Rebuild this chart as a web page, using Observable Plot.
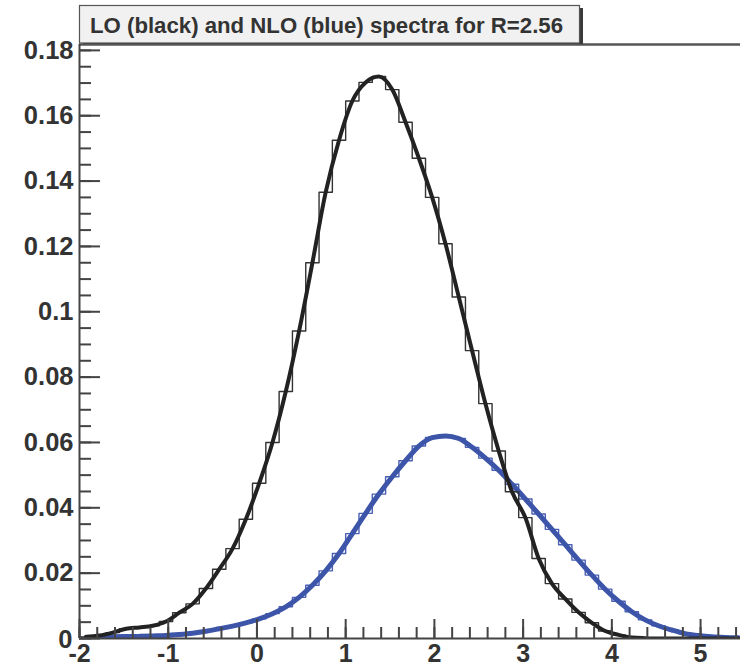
<!DOCTYPE html>
<html>
<head>
<meta charset="utf-8">
<script src="https://cdn.jsdelivr.net/npm/d3@7"></script>
<script src="https://cdn.jsdelivr.net/npm/@observablehq/plot@0.6"></script>
<style>
  html, body { margin: 0; padding: 0; background: white; }
  #chart { position: relative; width: 740px; height: 666px; overflow: hidden; }
</style>
</head>
<body>
<div id="chart"></div>
<script>
// ---- Data ----
const titleText = "LO (black) and NLO (blue) spectra for R=2.56";

// histogram binning: 50 bins from -2 to 5.5
const binLow = -2;
const binWidth = 0.15;

// LO spectrum (black), bin contents
const loValues = [
  0.0005, 0.0009, 0.0018, 0.0030, 0.0034, 0.0039, 0.0052, 0.0079, 0.0106, 0.0153,
  0.0212, 0.0275, 0.0365, 0.0475, 0.0600, 0.0756, 0.0941, 0.1150, 0.1366, 0.1525,
  0.1645, 0.1702, 0.1720, 0.1680, 0.1580, 0.1470, 0.1350, 0.1208, 0.1045, 0.0881,
  0.0719, 0.0574, 0.0449, 0.0370, 0.0245, 0.0168, 0.0121, 0.0080, 0.0048, 0.0023,
  0.0011, 0.0003, 0.0001, 0.0000, 0.0000, 0.0000, 0.0000, 0.0000, 0.0000, 0.0000
];

// NLO spectrum (blue), bin contents
const nloValues = [
  0.0003, 0.0004, 0.0005, 0.0006, 0.0007, 0.0008, 0.0009, 0.0012, 0.0016, 0.0022,
  0.0030, 0.0038, 0.0048, 0.0060, 0.0076, 0.0097, 0.0126, 0.0163, 0.0207, 0.0260,
  0.0321, 0.0383, 0.0442, 0.0495, 0.0544, 0.0589, 0.0615, 0.0620, 0.0612, 0.0585,
  0.0552, 0.0515, 0.0472, 0.0427, 0.0381, 0.0334, 0.0287, 0.0240, 0.0194, 0.0151,
  0.0114, 0.0082, 0.0057, 0.0039, 0.0026, 0.0015, 0.0009, 0.0005, 0.0003, 0.0002
];

// axes
const xMajor = [-2, -1, 0, 1, 2, 3, 4, 5];
const xTickLabels = ["-2", "-1", "0", "1", "2", "3", "4", "5"];
const xMinor = d3.range(-20, 55, 2).map(d => d / 10);
const yMajor = [0, 0.02, 0.04, 0.06, 0.08, 0.1, 0.12, 0.14, 0.16, 0.18];
const yTickLabels = ["0", "0.02", "0.04", "0.06", "0.08", "0.1", "0.12", "0.14", "0.16", "0.18"];
const yMinor = d3.range(0, 181, 5).map(d => d / 1000);
const xDomain = [-2, 5.45];
const yDomain = [0, 0.1818];

// ---- Build tables ----
function steps(values) {
  const pts = values.map((v, i) => ({x: binLow + i * binWidth, y: v}));
  pts.push({x: binLow + values.length * binWidth, y: values[values.length - 1]});
  return pts;
}
function centers(values) {
  return values.map((v, i) => ({x: binLow + (i + 0.5) * binWidth, y: v}));
}

const W = 740, H = 666;
const mL = 79, mR = 0, mT = 44, mB = 28;
const plotW = W - mL - mR, plotH = H - mT - mB;
const axisColor = "#444";
const labelFont = {fontSize: 25.5, fontWeight: "bold", color: "#333"};

const chart = Plot.plot({
  width: W, height: H,
  marginLeft: mL, marginRight: mR, marginTop: mT, marginBottom: mB,
  x: {domain: xDomain},
  y: {domain: yDomain},
  style: {background: "white", fontFamily: "'Liberation Sans', Arial, Helvetica, sans-serif"},
  marks: [
    Plot.line(steps(nloValues), {x: "x", y: "y", curve: "step-after", stroke: "#4a60b4", strokeWidth: 1.4, clip: true}),
    Plot.line(centers(nloValues), {x: "x", y: "y", curve: "monotone-x", stroke: "#3d55a9", strokeWidth: 5, clip: true}),
    Plot.line(steps(loValues), {x: "x", y: "y", curve: "step-after", stroke: "#333", strokeWidth: 1.4, clip: true}),
    Plot.line(centers(loValues), {x: "x", y: "y", curve: "monotone-x", stroke: "#222", strokeWidth: 4, clip: true}),

    Plot.tickY(yMinor, {y: d => d, stroke: axisColor, strokeWidth: 2, insetRight: plotW - 12}),
    Plot.tickY(yMajor, {y: d => d, stroke: axisColor, strokeWidth: 2, insetRight: plotW - 21}),
    Plot.tickX(xMinor, {x: d => d, stroke: axisColor, strokeWidth: 2, insetTop: plotH - 11}),
    Plot.tickX(xMajor, {x: d => d, stroke: axisColor, strokeWidth: 2, insetTop: plotH - 19}),

    Plot.ruleY([yDomain[1]], {stroke: "#555", strokeWidth: 2.5}),
    Plot.ruleX([xDomain[0]], {stroke: axisColor, strokeWidth: 2}),
    Plot.ruleY([0], {stroke: axisColor, strokeWidth: 2}),

    Plot.axisY({ticks: yMajor.slice(1), tickSize: 0, tickPadding: 6,
      tickFormat: d => yTickLabels[yMajor.indexOf(d)], label: null, ...labelFont}),
    Plot.axisY({ticks: [0], tickSize: 0, tickPadding: 7, dy: 1,
      tickFormat: d => yTickLabels[0], label: null, ...labelFont}),
    Plot.axisX({ticks: xMajor, tickSize: 0, tickPadding: 6,
      tickFormat: d => xTickLabels[xMajor.indexOf(d)], label: null, ...labelFont, fontSize: 25})
  ]
});

// title pave (ROOT style box with shadow)
const svg = d3.select(chart);
const g = svg.append("g");
g.append("rect").attr("x", 83).attr("y", 8).attr("width", 500).attr("height", 36).attr("fill", "#3a3a3a");
g.append("rect").attr("x", 79.5).attr("y", 5.5).attr("width", 500).attr("height", 37.5)
  .attr("fill", "#f1f1f1").attr("stroke", "#555").attr("stroke-width", 1.2);
g.append("text").attr("x", 90).attr("y", 33)
  .attr("text-anchor", "start")
  .attr("font-family", "'Liberation Sans', Arial, Helvetica, sans-serif")
  .attr("font-size", 21.5).attr("font-weight", "bold").attr("fill", "#333")
  .attr("textLength", 473).attr("lengthAdjust", "spacingAndGlyphs")
  .text(titleText);

document.getElementById("chart").appendChild(chart);
</script>
</body>
</html>
